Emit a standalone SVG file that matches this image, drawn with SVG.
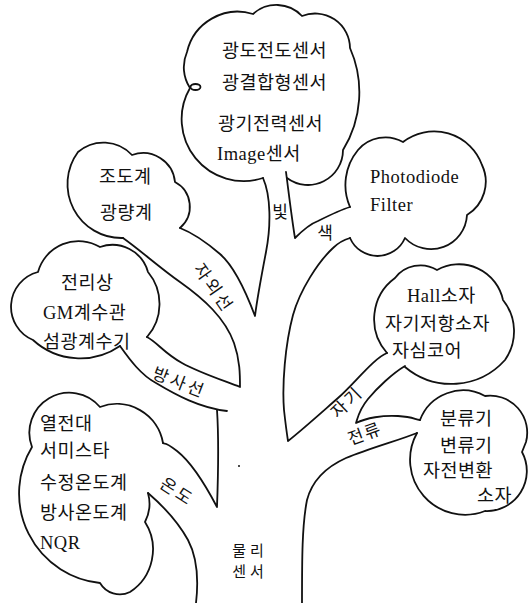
<svg xmlns="http://www.w3.org/2000/svg" width="529" height="603" viewBox="0 0 529 603">
  <style>
    .ink { fill: none; stroke: #111; stroke-width: 1.8; stroke-linecap: round; stroke-linejoin: round; }
    .cl { font-family: "Liberation Serif", "Noto Sans CJK KR", serif; font-size: 18.5px; letter-spacing: 0.5px; fill: #111; }
    .br { font-family: "Liberation Serif", "Noto Sans CJK KR", serif; font-size: 17px; fill: #111; text-anchor: middle; }
  </style>
  <rect width="529" height="603" fill="#fff"/>

  <!-- branches and trunk -->
  <g id="connectors" class="ink">
    <!-- light stem left side, down into the UV fork -->
    <path d="M263,178 C271,196 271,226 266,252 S257,300 255,316 C246,292 234,266 220,254 S193,233 180,228"/>
    <!-- light stem right side, colour branch top -->
    <path d="M286,172 C289,195 292,220 295,238 C302,231 310,224 318,221 C328,216 340,210 350,207"/>
    <!-- colour branch underside, trunk right, magnetism branch -->
    <path d="M350,238 Q340,241 333,248 C318,262 300,290 293,315 C285,345 282,385 284,410 Q286,428 288,441 C302,430 322,412 338,398 S374,358 387,353"/>
    <!-- magnetism underside, current branch top -->
    <path d="M405,366 C393,373 377,388 368,399 S358,417 356,423 C366,418 383,415 398,416 S414,419 420,420"/>
    <!-- current underside, lower trunk right -->
    <path d="M417,433 C400,440 370,448 346,458 C326,467 312,481 307,500 C302,525 302,560 302,603"/>
    <!-- UV underside, radiation top -->
    <path d="M123,238 C140,250 160,268 180,282 C204,299 225,318 234,343 C240,360 240,375 240,387 C225,381 200,373 182,363 S158,343 147,337"/>
    <!-- radiation underside -->
    <path d="M120,346 C130,360 141,375 156,383 C176,395 200,408 227,411"/>
    <!-- trunk left, temperature branch top -->
    <path d="M217,410 C219,440 218,480 217,507 C206,486 191,462 177,451 S166,445 163,443"/>
    <!-- temperature underside, lower trunk left -->
    <path d="M148,493 C162,505 178,522 188,540 C197,557 199,577 196,603"/>
  </g>
  <circle cx="239" cy="466" r="1" fill="#111"/>

  <!-- branch labels -->
  <g id="branch-labels">
    <text class="br" x="280" y="218">빛</text>
    <text class="br" x="325" y="239">색</text>
    <text class="br" transform="translate(213,287) rotate(55)" x="1.5" dy="0.35em" style="letter-spacing:3px">자외선</text>
    <text class="br" transform="translate(178,382) rotate(21)" x="1.5" dy="0.35em" style="letter-spacing:3px">방사선</text>
    <text class="br" transform="translate(346,403) rotate(-44)" x="1.5" dy="0.35em" style="letter-spacing:3px">자기</text>
    <text class="br" transform="translate(364,434) rotate(-20)" x="1" dy="0.35em" style="letter-spacing:2px">전류</text>
    <text class="br" transform="translate(176,491) rotate(33)" x="1.5" dy="0.35em" style="letter-spacing:3px">온도</text>
    <text class="br" x="250" y="556" style="font-size:15px;letter-spacing:4px">물리</text>
    <text class="br" x="250" y="577" style="font-size:15px;letter-spacing:4px">센서</text>
  </g>

  <!-- light sensors -->
  <g id="light">
    <path class="ink" d="M263,178 A62,62 0 0 1 190,88 A38,38 0 0 1 187,52 A52,52 0 0 1 253,14 A35,35 0 0 1 302,16 A35,35 0 0 1 350,48 A110,110 0 0 1 343,150 A35,35 0 0 1 287,178"/>
    <ellipse class="ink" cx="195.5" cy="87" rx="5" ry="3"/>
    <text class="cl" x="222" y="57">광도전도센서</text>
    <text class="cl" x="222" y="89">광결합형센서</text>
    <text class="cl" x="218" y="130">광기전력센서</text>
    <text class="cl" x="217" y="160">Image센서</text>
  </g>

  <!-- colour sensors -->
  <g id="colour">
    <path class="ink" d="M350,207 A55,55 0 0 1 358,150 A36,36 0 0 1 403,142 A51,51 0 0 1 482,165 A39,39 0 0 1 467,215 A36,36 0 0 1 405,238 A30,30 0 0 1 350,238"/>
    <text class="cl" x="370" y="183">Photodiode</text>
    <text class="cl" x="370" y="211">Filter</text>
  </g>

  <!-- ultraviolet sensors -->
  <g id="ultraviolet">
    <path class="ink" d="M123,238 A54,54 0 0 1 78,152 A39,39 0 0 1 132,155 A32,32 0 0 1 175,182 A28,28 0 0 1 180,228"/>
    <text class="cl" x="99" y="183">조도계</text>
    <text class="cl" x="100" y="219">광량계</text>
  </g>

  <!-- radiation sensors -->
  <g id="radiation">
    <path class="ink" d="M120,346 A70,70 0 0 1 33,340 A36,36 0 0 1 38,272 A42,42 0 0 1 100,247 A37,37 0 0 1 148,272 A50,50 0 0 1 147,337"/>
    <text class="cl" x="61" y="289">전리상</text>
    <text class="cl" x="43" y="319">GM계수관</text>
    <text class="cl" x="43" y="348">섬광계수기</text>
  </g>

  <!-- magnetic sensors -->
  <g id="magnetic">
    <path class="ink" d="M387,353 A51,51 0 0 1 395,278 A32,32 0 0 1 437,270 A45,45 0 0 1 503,300 A50,50 0 0 1 505,360 A72,72 0 0 1 405,367"/>
    <text class="cl" x="407" y="302">Hall소자</text>
    <text class="cl" x="385" y="330">자기저항소자</text>
    <text class="cl" x="392" y="357">자심코어</text>
  </g>

  <!-- current sensors -->
  <g id="current">
    <path class="ink" d="M420,420 A46,46 0 0 1 485,396 A37,37 0 0 1 526,442 L522,452 A40,40 0 0 1 485,511 A55,55 0 0 1 417,433"/>
    <text class="cl" x="440" y="425">분류기</text>
    <text class="cl" x="440" y="452">변류기</text>
    <text class="cl" x="423" y="477">자전변환</text>
    <text class="cl" x="477" y="502">소자</text>
  </g>

  <!-- temperature sensors -->
  <g id="temperature">
    <path class="ink" d="M148,493 A40,40 0 0 1 145,522 A51,51 0 0 1 130,592 A23,23 0 0 1 100,583 A90,90 0 0 1 32,447 A40,40 0 0 1 100,407 A47,47 0 0 1 163,443"/>
    <text class="cl" x="40" y="430">열전대</text>
    <text class="cl" x="40" y="457">서미스타</text>
    <text class="cl" x="40" y="489">수정온도계</text>
    <text class="cl" x="40" y="519">방사온도계</text>
    <text class="cl" x="40" y="549">NQR</text>
  </g>
</svg>
